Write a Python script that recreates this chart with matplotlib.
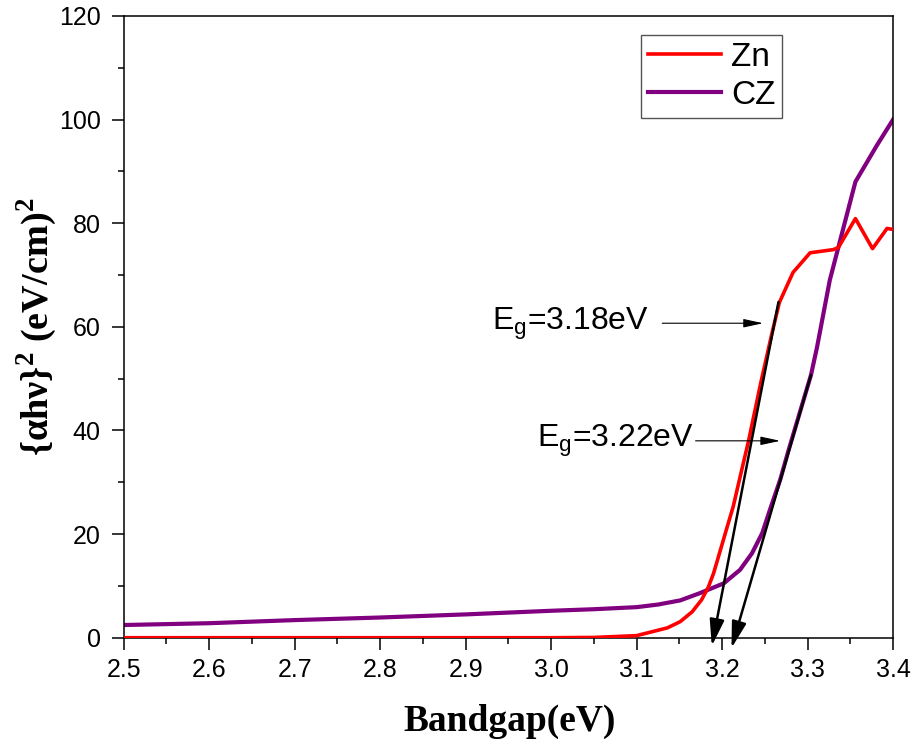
import numpy as np
import matplotlib.pyplot as plt
from matplotlib.ticker import MultipleLocator

# photon energy (eV) and (alpha h nu)^2
zn_x = [2.5, 2.6, 2.7, 2.8, 2.9, 3.0, 3.05, 3.1, 3.136, 3.151, 3.165, 3.176,
        3.184, 3.19, 3.198, 3.206, 3.213, 3.223, 3.231, 3.245, 3.258, 3.267,
        3.283, 3.303, 3.33, 3.336, 3.356, 3.376, 3.393, 3.4]
zn_y = [0, 0, 0, 0, 0, 0, 0.05, 0.4, 1.9, 3.1, 5.0, 7.3,
        9.8, 12.4, 16.9, 21.4, 25.3, 32.4, 38.0, 49.0, 58.5, 64.7,
        70.5, 74.3, 74.9, 75.3, 80.9, 75.1, 79.0, 78.8]

cz_x = [2.5, 2.6, 2.7, 2.8, 2.9, 3.0, 3.05, 3.1, 3.125, 3.151, 3.174, 3.202,
        3.221, 3.235, 3.247, 3.256, 3.268, 3.278, 3.291, 3.304, 3.311, 3.326,
        3.356, 3.381, 3.4]
cz_y = [2.45, 2.8, 3.4, 3.9, 4.5, 5.2, 5.5, 5.9, 6.4, 7.2, 8.6, 10.5,
        13.1, 16.3, 20.2, 24.7, 30.5, 36.3, 43.5, 50.7, 56.0, 69.0,
        88.0, 95.0, 100.0]

# tangent lines (start -> intercept) and labels
tan_zn = [(3.266, 64.8), (3.188, -1.6)]
tan_cz = [(3.304, 50.7), (3.211, -2.0)]
lab_zn = 'E$_\\mathregular{g}$=3.18eV'
lab_cz = 'E$_\\mathregular{g}$=3.22eV'

fig = plt.figure(figsize=(9.15, 7.47), dpi=100)
ax = fig.add_axes([0.1352, 0.1463, 0.8408, 0.8323])

ax.plot(zn_x, zn_y, color='#ff0000', lw=2.6, label='Zn', zorder=3)
ax.plot(cz_x, cz_y, color='#800080', lw=3.0, label='CZ', zorder=2)

# tangent arrows
for (p0, p1) in (tan_zn, tan_cz):
    ax.annotate('', xy=p1, xytext=p0, annotation_clip=False,
                arrowprops=dict(arrowstyle='-|>,head_length=0.8,head_width=0.22',
                                mutation_scale=20, color='k', lw=1.8,
                                shrinkA=0, shrinkB=0, clip_on=False),
                zorder=4)

# labels with horizontal arrows
ax.annotate('', xy=(3.248, 60.7), xytext=(3.130, 60.7),
            arrowprops=dict(arrowstyle='-|>,head_length=0.6,head_width=0.13',
                            mutation_scale=20, color='k', lw=0.8,
                            shrinkA=0, shrinkB=0))
ax.annotate('', xy=(3.268, 38.0), xytext=(3.169, 38.0),
            arrowprops=dict(arrowstyle='-|>,head_length=0.6,head_width=0.13',
                            mutation_scale=20, color='k', lw=0.8,
                            shrinkA=0, shrinkB=0))
ax.text(2.931, 60.6, lab_zn, fontsize=23, family='Liberation Sans',
        va='center', ha='left')
ax.text(2.983, 38.0, lab_cz, fontsize=23, family='Liberation Sans',
        va='center', ha='left')

ax.set_xlim(2.5, 3.4)
ax.set_ylim(0, 120)
ax.xaxis.set_major_locator(MultipleLocator(0.1))
ax.xaxis.set_minor_locator(MultipleLocator(0.05))
ax.yaxis.set_major_locator(MultipleLocator(20))
ax.yaxis.set_minor_locator(MultipleLocator(10))

ax.tick_params(which='both', direction='out', width=1.1, top=False, right=False)
ax.tick_params(which='major', length=8.5)
ax.tick_params(which='minor', length=4.3)
ax.tick_params(axis='x', pad=6)
ax.tick_params(axis='y', pad=8)
for lbl in ax.get_xticklabels() + ax.get_yticklabels():
    lbl.set_fontfamily('Liberation Sans')
    lbl.set_fontsize(18)
for s in ax.spines.values():
    s.set_linewidth(1.1)

ax.set_xlabel('Bandgap(eV)', fontsize=27, family='Liberation Serif',
              fontweight='bold')
ax.xaxis.set_label_coords(0.501, -0.106)
ax.set_ylabel('{αhν}$^\\mathregular{2}$ (eV/cm)$^\\mathregular{2}$',
              fontsize=27.5, family='Liberation Serif', fontweight='bold')
ax.yaxis.set_label_coords(-0.084, 0.5)

leg = ax.legend(loc='upper left', bbox_to_anchor=(641 / 915, 1 - 35 / 747),
                bbox_transform=fig.transFigure, borderaxespad=0,
                prop={'family': 'Liberation Sans', 'size': 24},
                fancybox=False, framealpha=1, edgecolor='#555555',
                handlelength=2.2, handletextpad=0.3, labelspacing=0.22,
                borderpad=0.2)
leg.get_frame().set_linewidth(1.0)

plt.savefig('out.png', dpi=100)
